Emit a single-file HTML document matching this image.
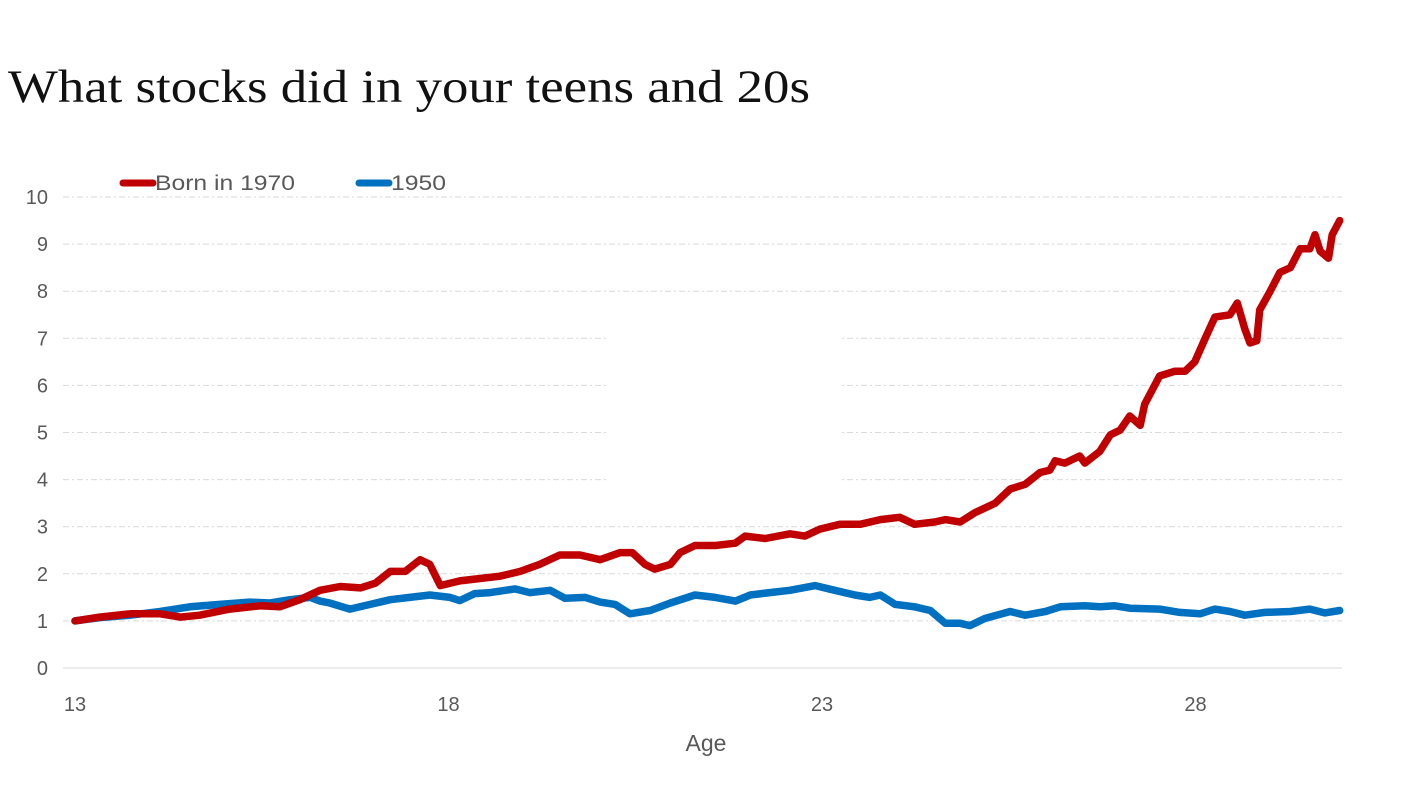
<!DOCTYPE html>
<html><head><meta charset="utf-8"><style>
body{margin:0;background:#fff;width:1426px;height:796px;overflow:hidden}
svg{display:block}
</style></head><body>
<svg width="1426" height="796" xmlns="http://www.w3.org/2000/svg">
<text x="8" y="102" font-family="'Liberation Serif',serif" font-size="47" fill="#111" textLength="802" lengthAdjust="spacingAndGlyphs">What stocks did in your teens and 20s</text>
<g id="grid"></g>
<g id="axes"></g>
<g id="series"></g>
<g>
<line x1="123" y1="183" x2="153" y2="183" stroke="#c00000" stroke-width="7" stroke-linecap="round"/>
<text x="155" y="190" font-family="'Liberation Sans',sans-serif" font-size="21" fill="#595959" textLength="140" lengthAdjust="spacingAndGlyphs">Born in 1970</text>
<line x1="359" y1="183" x2="389" y2="183" stroke="#0070c0" stroke-width="7" stroke-linecap="round"/>
<text x="391" y="190" font-family="'Liberation Sans',sans-serif" font-size="21" fill="#595959" textLength="55" lengthAdjust="spacingAndGlyphs">1950</text>
</g>
<text x="706" y="751" text-anchor="middle" font-family="'Liberation Sans',sans-serif" font-size="23" fill="#595959">Age</text>
</svg>
<script>
const yTicks=[0,1,2,3,4,5,6,7,8,9,10];
const xTicks=[13,18,23,28];
const redAges=[13.00,13.33,13.74,14.14,14.41,14.67,15.07,15.48,15.74,16.01,16.28,16.55,16.82,17.02,17.22,17.42,17.62,17.75,17.89,18.15,18.42,18.69,18.96,19.22,19.49,19.76,20.03,20.30,20.46,20.63,20.76,20.97,21.10,21.30,21.57,21.84,21.97,22.24,22.57,22.77,22.97,23.24,23.51,23.78,24.04,24.24,24.51,24.65,24.85,25.05,25.32,25.52,25.72,25.92,26.05,26.12,26.25,26.45,26.52,26.72,26.86,26.99,27.12,27.26,27.32,27.52,27.72,27.86,27.99,28.13,28.26,28.46,28.56,28.66,28.73,28.82,28.86,29.00,29.13,29.27,29.40,29.53,29.60,29.67,29.78,29.83,29.93];
const redValues=[1.0,1.08,1.15,1.15,1.08,1.12,1.25,1.32,1.3,1.45,1.65,1.73,1.7,1.8,2.05,2.05,2.3,2.2,1.75,1.85,1.9,1.95,2.05,2.2,2.4,2.4,2.3,2.45,2.45,2.2,2.1,2.2,2.45,2.6,2.6,2.65,2.8,2.75,2.85,2.8,2.95,3.05,3.05,3.15,3.2,3.05,3.1,3.15,3.1,3.3,3.5,3.8,3.9,4.15,4.2,4.4,4.35,4.5,4.35,4.6,4.95,5.05,5.35,5.15,5.6,6.2,6.3,6.3,6.5,7.0,7.45,7.5,7.75,7.2,6.9,6.95,7.6,8.0,8.4,8.5,8.9,8.9,9.2,8.85,8.7,9.2,9.5];
const blueAges=[13.00,13.33,13.74,14.14,14.54,14.94,15.34,15.61,15.88,16.15,16.28,16.41,16.68,16.95,17.22,17.48,17.75,18.02,18.15,18.35,18.56,18.76,18.89,19.09,19.36,19.56,19.83,20.03,20.23,20.43,20.70,20.97,21.30,21.57,21.84,22.04,22.30,22.57,22.91,23.17,23.44,23.64,23.78,23.98,24.24,24.45,24.65,24.85,24.98,25.18,25.52,25.72,25.99,26.19,26.52,26.72,26.92,27.12,27.52,27.79,28.06,28.26,28.46,28.66,28.93,29.27,29.53,29.73,29.93];
const blueValues=[1.0,1.07,1.12,1.2,1.3,1.35,1.4,1.38,1.45,1.5,1.42,1.38,1.25,1.35,1.45,1.5,1.55,1.5,1.43,1.58,1.6,1.65,1.68,1.6,1.65,1.48,1.5,1.4,1.35,1.15,1.22,1.38,1.55,1.5,1.42,1.55,1.6,1.65,1.75,1.65,1.55,1.5,1.55,1.35,1.3,1.22,0.95,0.95,0.9,1.05,1.2,1.12,1.2,1.3,1.32,1.3,1.32,1.27,1.25,1.18,1.15,1.25,1.2,1.12,1.18,1.2,1.25,1.17,1.22];

const NS='http://www.w3.org/2000/svg';
const X0=75,PX=74.7,Y0=668,PY=47.1;
function xs(a){return X0+(a-13)*PX;}
function ys(v){return Y0-v*PY;}
function mk(tag,attrs,parent){const e=document.createElementNS(NS,tag);for(const k in attrs)e.setAttribute(k,attrs[k]);parent.appendChild(e);return e;}
const grid=document.getElementById('grid'),axes=document.getElementById('axes'),series=document.getElementById('series');
yTicks.forEach(v=>{
  if(v>0){
    const l=mk('line',{x1:X0-12,x2:1342,y1:ys(v),y2:ys(v),stroke:'#d9d9d9','stroke-width':1,'stroke-dasharray':'6,3,2,3'},grid);
    
    
  }
  const t=mk('text',{x:48,y:ys(v)+7,'text-anchor':'end','font-family':"'Liberation Sans',sans-serif",'font-size':20,fill:'#595959'},axes);
  t.textContent=v;
  
  
});
const gap=mk('rect',{x:608,y:330,width:232,height:160,fill:'#fff'},grid);


const base=mk('line',{x1:X0-12,x2:1342,y1:Y0,y2:Y0,stroke:'#d9d9d9','stroke-width':1},axes);


xTicks.forEach(a=>{
  const t=mk('text',{x:xs(a),y:711,'text-anchor':'middle','font-family':"'Liberation Sans',sans-serif",'font-size':20,fill:'#595959'},axes);
  t.textContent=a;
  
  
});
function line(ages,vals,color,name){
  const d=ages.map((a,i)=>(i?'L':'M')+xs(a).toFixed(1)+','+ys(vals[i]).toFixed(1)).join('');
  const p=mk('path',{d:d,fill:'none',stroke:color,'stroke-width':7.5,'stroke-linejoin':'round','stroke-linecap':'round'},series);
  
  
}
line(blueAges,blueValues,'#0070c0','line-1950');
line(redAges,redValues,'#c00000','line-born-1970');
</script>
</body></html>
